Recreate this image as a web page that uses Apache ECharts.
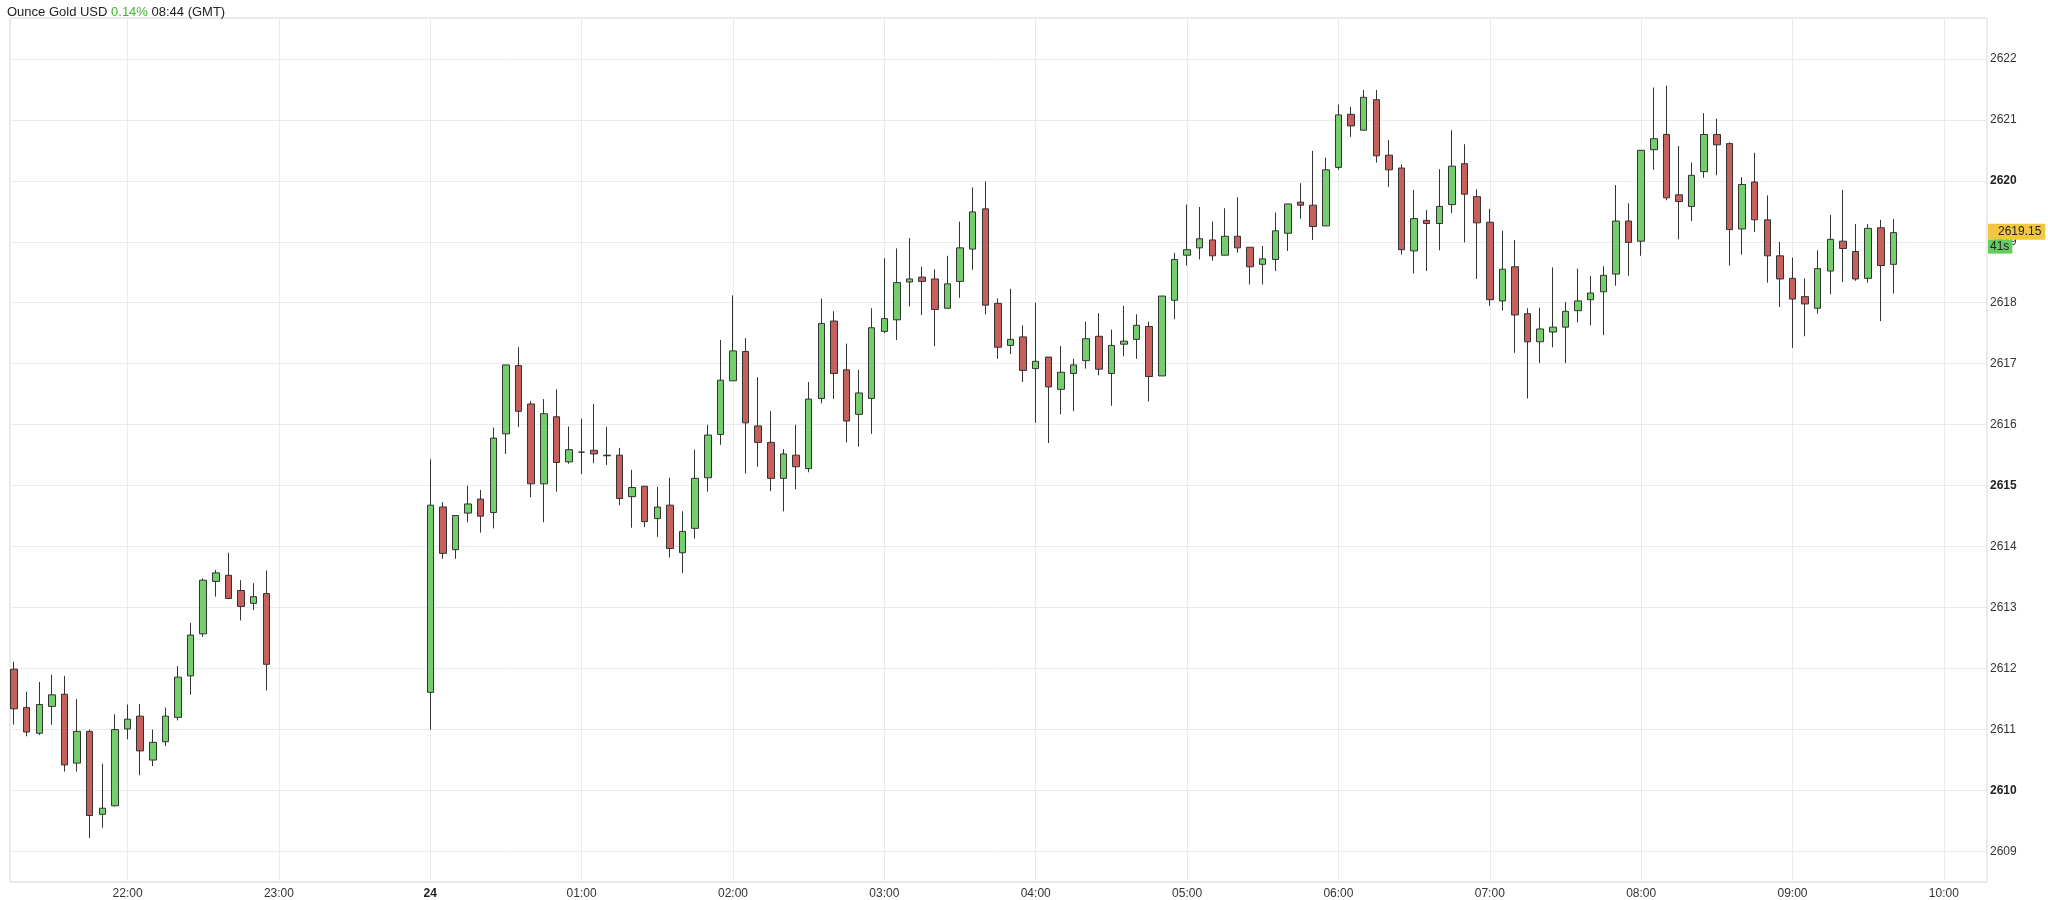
<!DOCTYPE html>
<html><head><meta charset="utf-8">
<script src="https://cdn.jsdelivr.net/npm/echarts@6/dist/echarts.min.js"></script>
<style>html,body{margin:0;padding:0;background:#fff}#c{width:2048px;height:900px}</style>
</head><body><div id="c"></div>
<script>
// 5-minute candles (GMT display times)
const times = [
"11-23 21:15","11-23 21:20","11-23 21:25","11-23 21:30","11-23 21:35","11-23 21:40","11-23 21:45","11-23 21:50","11-23 21:55",
"11-23 22:00","11-23 22:05","11-23 22:10","11-23 22:15","11-23 22:20","11-23 22:25","11-23 22:30","11-23 22:35","11-23 22:40","11-23 22:45","11-23 22:50","11-23 22:55",
"11-24 00:00","11-24 00:05","11-24 00:10","11-24 00:15","11-24 00:20","11-24 00:25","11-24 00:30","11-24 00:35","11-24 00:40","11-24 00:45","11-24 00:50","11-24 00:55",
"11-24 01:00","11-24 01:05","11-24 01:10","11-24 01:15","11-24 01:20","11-24 01:25","11-24 01:30","11-24 01:35","11-24 01:40","11-24 01:45","11-24 01:50","11-24 01:55",
"11-24 02:00","11-24 02:05","11-24 02:10","11-24 02:15","11-24 02:20","11-24 02:25","11-24 02:30","11-24 02:35","11-24 02:40","11-24 02:45","11-24 02:50","11-24 02:55",
"11-24 03:00","11-24 03:05","11-24 03:10","11-24 03:15","11-24 03:20","11-24 03:25","11-24 03:30","11-24 03:35","11-24 03:40","11-24 03:45","11-24 03:50","11-24 03:55",
"11-24 04:00","11-24 04:05","11-24 04:10","11-24 04:15","11-24 04:20","11-24 04:25","11-24 04:30","11-24 04:35","11-24 04:40","11-24 04:45","11-24 04:50","11-24 04:55",
"11-24 05:00","11-24 05:05","11-24 05:10","11-24 05:15","11-24 05:20","11-24 05:25","11-24 05:30","11-24 05:35","11-24 05:40","11-24 05:45","11-24 05:50","11-24 05:55",
"11-24 06:00","11-24 06:05","11-24 06:10","11-24 06:15","11-24 06:20","11-24 06:25","11-24 06:30","11-24 06:35","11-24 06:40","11-24 06:45","11-24 06:50","11-24 06:55",
"11-24 07:00","11-24 07:05","11-24 07:10","11-24 07:15","11-24 07:20","11-24 07:25","11-24 07:30","11-24 07:35","11-24 07:40","11-24 07:45","11-24 07:50","11-24 07:55",
"11-24 08:00","11-24 08:05","11-24 08:10","11-24 08:15","11-24 08:20","11-24 08:25","11-24 08:30","11-24 08:35","11-24 08:40","11-24 08:45","11-24 08:50","11-24 08:55",
"11-24 09:00","11-24 09:05","11-24 09:10","11-24 09:15","11-24 09:20","11-24 09:25","11-24 09:30","11-24 09:35","11-24 09:40"
];
const opens = [
2611.99,2611.36,2610.94,2611.38,2611.58,2610.45,2610.97,2609.61,2609.75,
2611.01,2611.22,2610.50,2610.80,2611.20,2611.88,2612.57,2613.43,2613.53,2613.28,2613.07,2613.23,
2611.61,2614.65,2613.95,2614.55,2614.78,2614.56,2615.85,2616.97,2616.34,2615.03,2616.13,2615.39,
2615.55,2615.58,2615.50,2615.50,2614.82,2614.99,2614.46,2614.68,2613.90,2614.30,2615.13,2615.84,
2616.72,2617.20,2615.98,2615.71,2615.12,2615.50,2615.28,2616.43,2617.70,2616.90,2616.17,2616.43,
2617.53,2617.72,2618.34,2618.42,2618.39,2617.91,2618.35,2618.88,2619.54,2617.99,2617.30,2617.44,
2616.92,2617.11,2616.58,2616.84,2617.05,2617.45,2616.84,2617.32,2617.40,2617.61,2616.80,2618.04,
2618.78,2618.90,2619.03,2618.78,2619.09,2618.91,2618.63,2618.71,2619.14,2619.65,2619.60,2619.26,
2620.22,2621.09,2620.83,2621.33,2620.42,2620.21,2618.85,2619.35,2619.30,2619.61,2620.28,2619.74,
2619.32,2618.03,2618.59,2617.82,2617.36,2617.52,2617.60,2617.87,2618.05,2618.18,2618.47,2619.34,
2619.01,2620.51,2620.76,2619.77,2619.58,2620.15,2620.76,2620.61,2619.21,2619.98,2619.36,2618.77,
2618.40,2618.10,2617.91,2618.52,2619.01,2618.84,2618.40,2619.23,2618.63
];
const closes = [
2611.34,2610.96,2611.41,2611.57,2610.42,2610.97,2609.59,2609.71,2611.00,
2611.17,2610.65,2610.79,2611.22,2611.86,2612.55,2613.45,2613.57,2613.15,2613.02,2613.18,2612.07,
2614.68,2613.89,2614.51,2614.70,2614.50,2615.78,2616.98,2616.22,2615.03,2616.18,2615.38,2615.59,
2615.55,2615.52,2615.49,2614.79,2614.97,2614.41,2614.65,2613.97,2614.25,2615.12,2615.83,2616.73,
2617.21,2616.03,2615.71,2615.12,2615.52,2615.31,2616.42,2617.66,2616.84,2616.06,2616.52,2617.59,
2617.74,2618.33,2618.39,2618.35,2617.89,2618.31,2618.90,2619.49,2617.96,2617.27,2617.40,2616.89,
2617.04,2616.62,2616.86,2616.98,2617.41,2616.91,2617.30,2617.37,2617.63,2616.79,2618.11,2618.71,
2618.87,2619.05,2618.77,2619.09,2618.90,2618.59,2618.72,2619.18,2619.62,2619.60,2619.25,2620.18,
2621.08,2620.90,2621.37,2620.41,2620.18,2618.87,2619.38,2619.30,2619.58,2620.24,2619.78,2619.31,
2618.05,2618.55,2617.80,2617.36,2617.57,2617.60,2617.86,2618.03,2618.16,2618.45,2619.34,2618.99,
2620.50,2620.69,2619.72,2619.66,2620.09,2620.76,2620.59,2619.20,2619.94,2619.36,2618.77,2618.39,
2618.06,2617.98,2618.56,2619.04,2618.89,2618.39,2619.22,2618.61,2619.15
];
const lows = [
2611.08,2610.89,2610.91,2611.08,2610.31,2610.31,2609.22,2609.39,2609.74,
2610.84,2610.25,2610.40,2610.73,2611.15,2611.57,2612.52,2613.18,2613.14,2612.79,2612.96,2611.64,
2611.00,2613.80,2613.80,2614.40,2614.23,2614.30,2615.52,2615.96,2614.81,2614.40,2614.90,2615.36,
2615.19,2615.37,2615.34,2614.68,2614.31,2614.32,2614.16,2613.82,2613.57,2614.13,2614.90,2615.67,
2616.72,2615.20,2615.31,2614.91,2614.58,2614.94,2615.22,2616.35,2616.42,2615.71,2615.64,2615.85,
2617.50,2617.39,2617.94,2617.80,2617.29,2617.91,2618.08,2618.54,2617.81,2617.08,2617.16,2616.70,
2616.03,2615.70,2616.17,2616.22,2616.92,2616.81,2616.31,2617.12,2617.08,2616.38,2616.80,2617.73,
2618.61,2618.71,2618.69,2618.78,2618.82,2618.30,2618.30,2618.52,2618.85,2619.38,2619.03,2619.26,
2620.18,2620.72,2620.83,2620.30,2619.90,2618.79,2618.48,2618.52,2618.86,2619.47,2618.99,2618.39,
2617.95,2617.87,2617.18,2616.43,2617.01,2617.27,2617.01,2617.68,2617.63,2617.47,2618.28,2618.44,
2618.77,2620.18,2619.68,2619.04,2619.34,2620.05,2620.09,2618.61,2618.79,2619.16,2618.33,2617.93,
2617.26,2617.45,2617.82,2618.14,2618.34,2618.36,2618.33,2617.70,2618.15
];
const highs = [
2612.11,2611.62,2611.78,2611.90,2611.88,2611.50,2611.00,2610.44,2611.25,
2611.41,2611.42,2611.00,2611.36,2612.04,2612.75,2613.48,2613.62,2613.90,2613.45,2613.40,2613.61,
2615.43,2614.73,2614.51,2615.00,2614.93,2615.95,2616.98,2617.27,2616.39,2616.42,2616.58,2615.97,
2616.10,2616.34,2615.96,2615.62,2615.26,2614.99,2614.98,2615.13,2614.58,2615.59,2616.00,2617.39,
2618.12,2617.42,2616.78,2616.22,2615.60,2616.00,2616.70,2618.07,2617.86,2617.33,2616.90,2617.91,
2618.73,2618.89,2619.06,2618.59,2618.55,2618.77,2619.33,2619.89,2619.99,2618.07,2618.23,2617.63,
2618.00,2617.11,2617.29,2617.08,2617.69,2617.83,2617.56,2617.95,2617.81,2617.69,2618.11,2618.82,
2619.61,2619.57,2619.33,2619.55,2619.73,2618.91,2618.93,2619.48,2619.62,2619.96,2620.49,2620.38,
2621.25,2621.21,2621.49,2621.49,2620.67,2620.27,2619.85,2619.52,2620.19,2620.83,2620.60,2619.86,
2619.54,2619.18,2619.03,2617.91,2617.92,2618.58,2618.01,2618.56,2618.44,2618.60,2619.93,2619.63,
2620.50,2621.53,2621.56,2620.57,2620.30,2621.11,2621.02,2620.63,2620.06,2620.46,2619.76,2619.00,
2618.74,2618.40,2618.86,2619.44,2619.85,2619.29,2619.29,2619.36,2619.37
];
const lastPrice = 2619.15;
const countdown = "41s";
const axisStart = "11-23 21:13:24", axisEnd = "11-24 10:17:06";

function ts(s){ const [md, t] = s.split(' '); const [m,d] = md.split('-'); const p = t.split(':');
  return Date.UTC(2024, +m-1, +d, +p[0], +p[1], p[2]? +p[2]:0); }
const data = times.map((t,i)=>[ts(t), opens[i], closes[i], lows[i], highs[i]]);

const chart = echarts.init(document.getElementById('c'));
chart.setOption({
  useUTC: true,
  animation: false,
  backgroundColor: '#fff',
  title: { left: 2, top: 1, text: '{a|Ounce Gold USD }{g|0.14%}{a| 08:44 (GMT)}',
    textStyle: { fontWeight: 'normal', rich: { a:{fontSize:13, color:'#222', fontWeight:'normal', fontFamily:'Liberation Sans, Arial'}, g:{fontSize:13, color:'#44b233', fontWeight:'normal', fontFamily:'Liberation Sans, Arial'} } } },
  grid: { left: 10, right: 61, top: 18, bottom: 18, show: true, borderColor: '#d6d0dc', borderWidth: 1 },
  xAxis: { type: 'time', min: ts(axisStart), max: ts(axisEnd), interval: 3600000, minInterval: 3600000, maxInterval: 3600000,
    axisLine: { show: false }, axisTick: { show: false },
    axisLabel: { showMinLabel: false, showMaxLabel: false, margin: 6, fontSize: 12, color: '#333', fontFamily: 'Liberation Sans, Arial',
      formatter: function(v){ const d = new Date(v); const h = d.getUTCHours();
        if (h === 0) return '{b|24}'; return (h<10?'0':'')+h+':00'; },
      rich: { b: { fontWeight: 'bold', fontSize: 12, color: '#222' } } },
    splitLine: { show: true, lineStyle: { color: '#ebebef', width: 1 } } },
  yAxis: { type: 'value', position: 'right', min: 2608.5, max: 2622.67, interval: 0.5, scale: true,
    axisLine: { show: false }, axisTick: { show: false },
    axisLabel: { margin: 3, fontSize: 12, color: '#333', fontFamily: 'Liberation Sans, Arial',
      formatter: function(v){ if (Math.abs(v - Math.round(v)) > 0.01) return ''; const r = Math.round(v);
        return (r % 5 === 0) ? '{b|'+r+'}' : String(r); },
      rich: { b: { fontWeight: 'bold', fontSize: 12, color: '#222' } } },
    splitLine: { show: true, lineStyle: { color: ['rgba(0,0,0,0)', '#ebebef'], width: 1 } } },
  series: [{
    type: 'candlestick', data: data, barWidth: 7, clip: false,
    itemStyle: { color: '#72cf6b', color0: '#c7605c', borderColor: '#333', borderColor0: '#333', borderWidth: 1 },
    markLine: { symbol: ['none','none'], silent: true, animation: false, lineStyle: { color: 'rgba(0,0,0,0)', width: 1, type: 'solid' },
      data: [
        { yAxis: lastPrice, label: { show: true, position: 'end', distance: 1, formatter: String(lastPrice), backgroundColor: '#f2c740',
            color: '#222', fontSize: 12, padding: [2, 4, 2, 10], offset: [0, -1], fontFamily: 'Liberation Sans, Arial' } },
        { yAxis: lastPrice, label: { show: true, position: 'end', distance: 1, formatter: countdown, backgroundColor: '#64cf5e',
            color: '#222', fontSize: 12, padding: [1, 3, 1, 2], offset: [0, 14], fontFamily: 'Liberation Sans, Arial' } }
      ] }
  }]
});
</script></body></html>
